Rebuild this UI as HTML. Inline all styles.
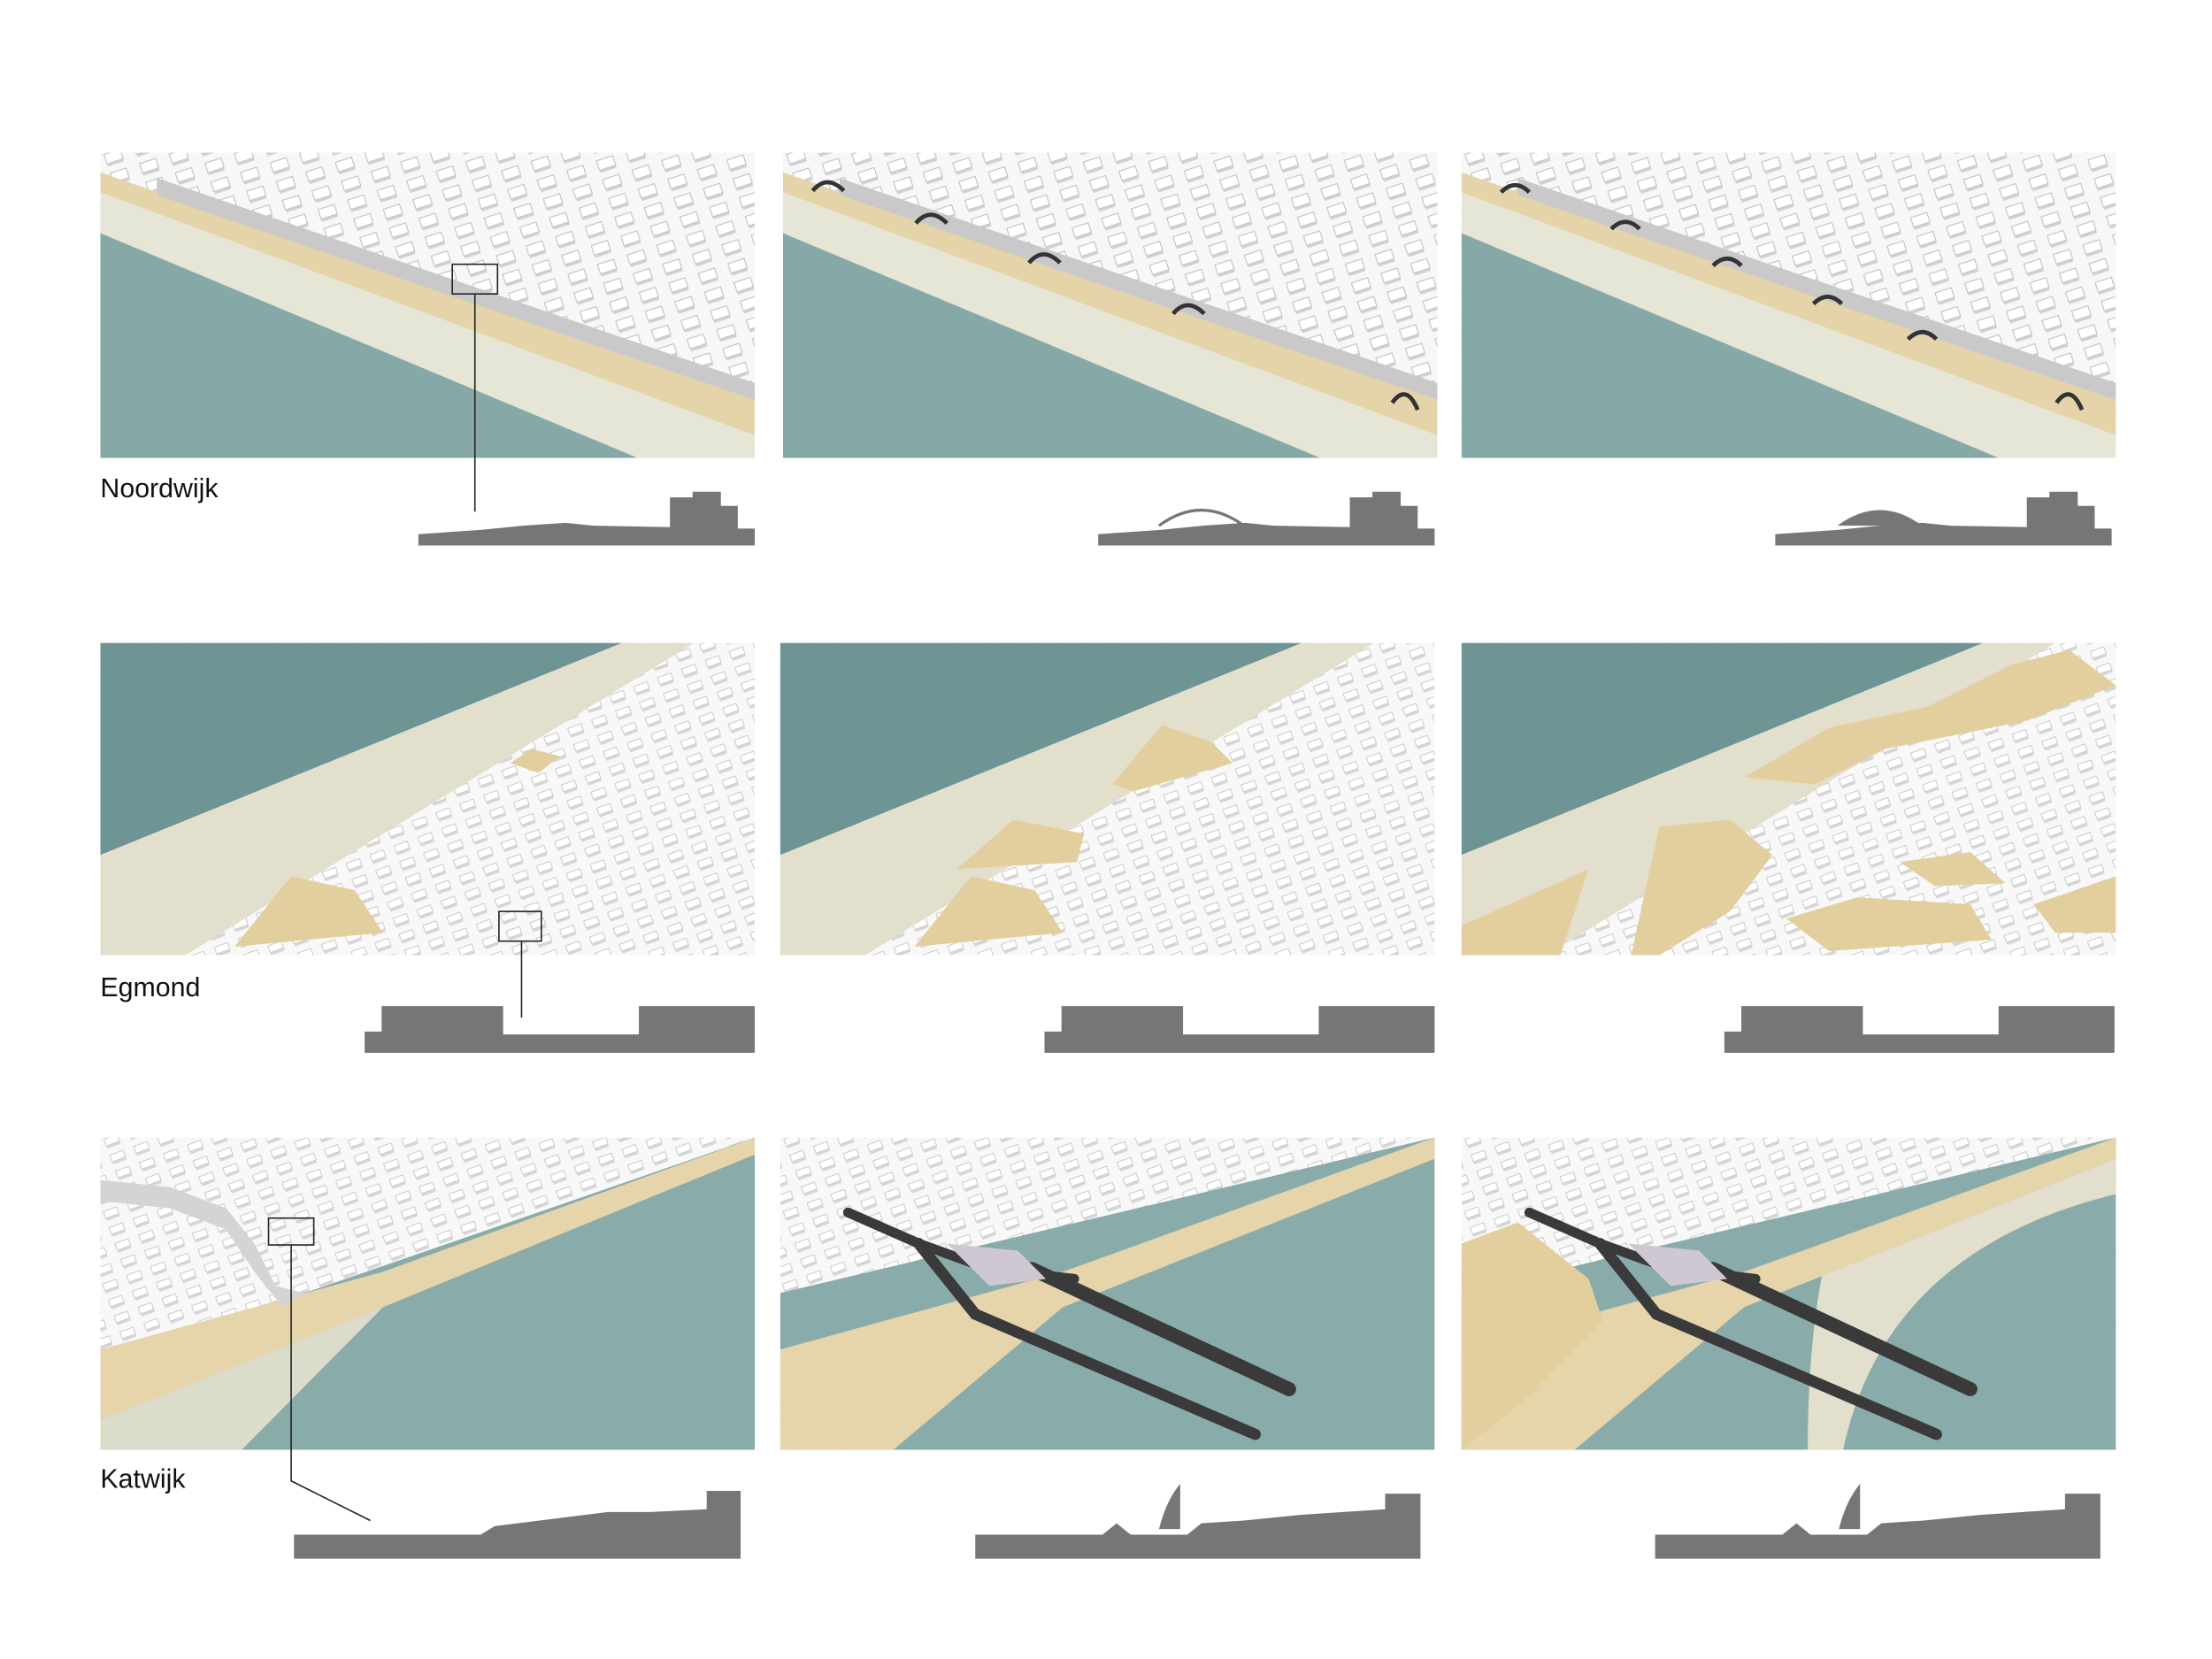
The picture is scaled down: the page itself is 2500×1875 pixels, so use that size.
<!DOCTYPE html>
<html><head><meta charset="utf-8"><style>
html,body{margin:0;padding:0;background:#fff;}
svg{display:block;}
text{font-family:"Liberation Sans",sans-serif;}
</style></head><body>
<svg width="2500" height="1875" viewBox="0 0 1565 1174" preserveAspectRatio="none" xmlns="http://www.w3.org/2000/svg">
<defs>
<pattern id="bld" width="22" height="14" patternUnits="userSpaceOnUse" patternTransform="rotate(-18)">
<rect width="22" height="14" fill="#f7f7f7"/>
<rect x="2" y="2" width="12" height="7" fill="#fff" stroke="#b8b8b8" stroke-width="0.6"/>
<rect x="2" y="9" width="12" height="2" fill="#d0d0d0"/>
</pattern>
<pattern id="bld2" width="18" height="12" patternUnits="userSpaceOnUse" patternTransform="rotate(-20)">
<rect width="18" height="12" fill="#f8f8f8"/>
<rect x="2" y="2" width="10" height="5" fill="#fff" stroke="#bdbdbd" stroke-width="0.5"/>
<rect x="2" y="7" width="10" height="2" fill="#d6d6d6"/>
</pattern>
<clipPath id="c1"><rect x="0" y="0" width="463" height="216"/></clipPath>
<clipPath id="c2"><rect x="0" y="0" width="463" height="221"/></clipPath>
</defs>

<g id="r1">
<g transform="translate(71,108)" clip-path="url(#c1)">
<rect width="463" height="216" fill="url(#bld)"/>
<polygon points="0,14 463,175 463,216 0,216" fill="#e6e6d6"/>
<polygon points="0,14 463,175 463,200 0,28" fill="#e5d3a9"/>
<polygon points="40,18 463,163 463,175 40,30" fill="#c9c9c9"/>
<polygon points="0,57 380,216 0,216" fill="#86a9a8"/>
</g>
</g>
<use href="#r1" x="483"/>
<use href="#r1" x="963"/>
<g fill="none" stroke="#333" stroke-width="3">
<path d="M575,135 q10,-12 22,0"/><path d="M648,158 q10,-12 22,0"/><path d="M728,186 q10,-12 22,0"/><path d="M830,222 q10,-12 22,0"/><path d="M985,285 q10,-14 18,5"/>
<path d="M1062,136 q10,-10 20,0"/><path d="M1140,162 q10,-10 20,0"/><path d="M1212,188 q10,-10 20,0"/><path d="M1283,215 q10,-10 20,0"/><path d="M1350,240 q10,-10 20,0"/><path d="M1455,285 q10,-14 18,5"/>
</g>
<rect x="320" y="187" width="32" height="21" fill="none" stroke="#222" stroke-width="1"/>
<line x1="336" y1="208" x2="336" y2="362" stroke="#222" stroke-width="1"/>
<text x="71" y="352" font-size="19" fill="#111">Noordwijk</text>
<g id="s1" fill="#767676">
<polygon points="296,378 340,375 370,372 400,370 420,372 474,373 474,352 490,352 490,348 510,348 510,358 522,358 522,374 534,374 534,386 296,386"/>
</g>
<use href="#s1" x="481"/>
<use href="#s1" x="960"/>
<path d="M820,372 q30,-22 60,0" fill="none" stroke="#767676" stroke-width="2"/>
<path d="M1300,372 q30,-22 60,0" fill="#767676"/>

<g transform="translate(71,455)" clip-path="url(#c2)">
<rect width="463" height="221" fill="url(#bld2)"/>
<polygon points="0,221 0,150 369,0 420,0 60,221" fill="#e3dfcd"/>
<polygon points="0,0 369,0 0,150" fill="#6f9494"/>
<polygon points="95,215 135,165 180,175 200,205" fill="#e3cf9e"/>
<polygon points="290,85 305,75 325,80 310,92" fill="#e3cf9e"/>
</g>
<g transform="translate(552,455)" clip-path="url(#c2)">
<rect width="463" height="221" fill="url(#bld2)"/>
<polygon points="0,221 0,150 369,0 420,0 60,221" fill="#e3dfcd"/>
<polygon points="0,0 369,0 0,150" fill="#6f9494"/>
<polygon points="95,215 135,165 180,175 200,205" fill="#e3cf9e"/>
<polygon points="125,160 165,125 215,135 210,155" fill="#e3cf9e"/>
<polygon points="235,100 270,58 305,70 320,85 250,105" fill="#e3cf9e"/>
</g>
<g transform="translate(1034,455)" clip-path="url(#c2)">
<rect width="463" height="221" fill="url(#bld2)"/>
<polygon points="0,221 0,150 369,0 420,0 60,221" fill="#e3dfcd"/>
<polygon points="0,0 369,0 0,150" fill="#6f9494"/>
<polygon points="0,221 0,200 90,160 70,221" fill="#e3cf9e"/>
<polygon points="120,221 140,130 190,125 220,150 190,190 140,221" fill="#e3cf9e"/>
<polygon points="200,95 260,60 330,45 390,15 430,5 463,30 400,55 300,75 250,100" fill="#e3cf9e"/>
<polygon points="230,195 280,180 360,185 375,210 260,218" fill="#e3cf9e"/>
<polygon points="310,155 360,148 385,170 335,172" fill="#e3cf9e"/>
<polygon points="405,185 463,165 463,205 420,205" fill="#e3cf9e"/>
</g>
<rect x="353" y="645" width="30" height="21" fill="none" stroke="#222" stroke-width="1"/>
<line x1="369" y1="666" x2="369" y2="720" stroke="#222" stroke-width="1"/>
<text x="71" y="705" font-size="19" fill="#111">Egmond</text>
<g id="s2" fill="#767676">
<polygon points="258,745 258,730 270,730 270,712 356,712 356,732 452,732 452,712 534,712 534,745"/>
</g>
<use href="#s2" x="481"/>
<use href="#s2" x="962"/>

<g transform="translate(71,805)" clip-path="url(#c2)">
<rect width="463" height="221" fill="url(#bld2)"/>
<polygon points="0,160 463,0 463,221 0,221" fill="#89acaa"/>
<polygon points="0,150 200,95 463,0 463,12 200,120 0,200" fill="#e6d4ab"/>
<polygon points="0,200 200,120 100,221 0,221" fill="#dcdccb"/>
</g>
<polygon points="71,835 120,840 160,855 180,880 195,910 215,915 200,925 180,900 160,870 120,855 71,850" fill="#d4d4d4"/>
<g transform="translate(552,805)" clip-path="url(#c2)">
<rect width="463" height="221" fill="url(#bld2)"/>
<polygon points="0,110 463,0 463,221 0,221" fill="#89acaa"/>
<polygon points="0,150 200,95 463,0 463,15 200,120 0,200" fill="#e6d4ab"/>
<polygon points="0,200 200,120 80,221 0,221" fill="#e6d4ab"/>
</g>
<g transform="translate(1034,805)" clip-path="url(#c2)">
<rect width="463" height="221" fill="url(#bld2)"/>
<polygon points="0,110 463,0 463,221 0,221" fill="#89acaa"/>
<polygon points="0,150 200,95 463,0 463,15 200,120 0,200" fill="#e6d4ab"/>
<path d="M255,98 L463,15 L463,40 Q300,80 270,221 L245,221 Q245,150 255,98 Z" fill="#e3dfcd"/>
<polygon points="0,200 200,120 80,221 0,221" fill="#e6d4ab"/>
<polygon points="0,75 40,60 90,100 100,130 40,190 0,221" fill="#e3cf9e"/>
</g>
<g id="hb" fill="none" stroke="#3a3a3a" stroke-linecap="round">
<polyline points="600,858 650,880 700,898 760,905" stroke-width="7"/>
<line x1="730" y1="898" x2="912" y2="983" stroke-width="10"/>
<polyline points="650,880 690,930 760,960 888,1015" stroke-width="8"/>
<polygon points="670,880 720,885 740,905 700,910" fill="#cfc8d2" stroke="none"/>
</g>
<use href="#hb" x="482"/>
<rect x="190" y="862" width="32" height="19" fill="none" stroke="#222" stroke-width="1"/>
<polyline points="206,881 206,1048 262,1076" fill="none" stroke="#222" stroke-width="1"/>
<text x="71" y="1053" font-size="19" fill="#111">Katwijk</text>
<polygon points="208,1103 208,1086 340,1086 350,1080 430,1070 460,1070 500,1068 500,1055 524,1055 524,1103" fill="#767676"/>
<g id="s3" fill="#767676">
<polygon points="690,1103 690,1086 780,1086 790,1078 800,1086 840,1086 850,1078 880,1076 920,1072 980,1068 980,1057 1005,1057 1005,1103"/>
<path d="M820,1082 q5,-20 15,-32 l0,32 z"/>
</g>
<use href="#s3" x="481"/>
</svg>
</body></html>
